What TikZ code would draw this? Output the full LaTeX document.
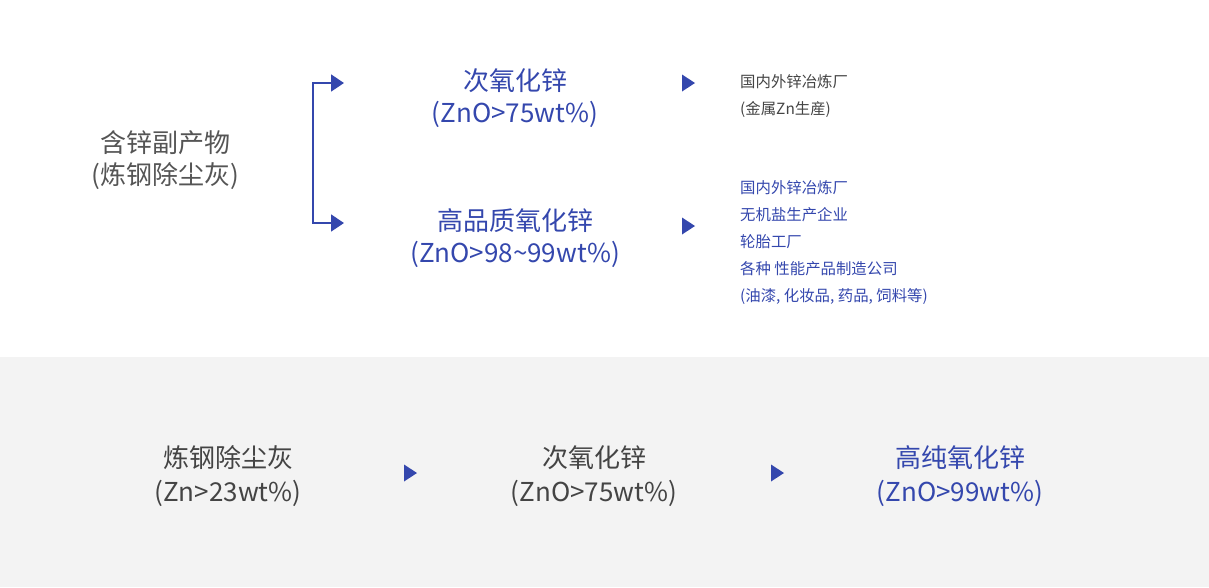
\documentclass[tikz,border=0pt]{standalone}
\usepackage{fontspec}
\setmainfont{Noto Sans CJK SC}
\usetikzlibrary{arrows.meta}
\definecolor{zblue}{HTML}{3447AD}
\definecolor{zgray}{HTML}{555555}
\definecolor{dgray}{HTML}{444444}
\definecolor{band}{HTML}{F3F3F3}
\tikzset{
  big/.style={align=center,inner sep=0pt,font=\fontsize{26}{32}\selectfont},
  low/.style={align=center,inner sep=0pt,text=dgray,font=\fontsize{26}{34}\selectfont},
  small/.style={align=left,anchor=west,inner sep=0pt,font=\fontsize{15.4}{27}\selectfont},
  tri/.pic={\fill[zblue] (-6,-8.5) -- (7,0) -- (-6,8.5) -- cycle;}
}
\begin{document}
\begin{tikzpicture}[x=1pt,y=-1pt]
  \useasboundingbox (0,0) rectangle (1209,587);
  \fill[band] (0,357) rectangle (1209,587);
  % top part
  \node[big,text=zgray] (src) at (165,160) {含锌副产物\\(炼钢除尘灰)};
  \node[big,text=zblue] (zno1) at (515,98) {次氧化锌\\(ZnO>75wt\%)};
  \node[big,text=zblue] (zno2) at (515,238) {高品质氧化锌\\(ZnO>98\textasciitilde99wt\%)};
  \coordinate (a1) at (344,83);
  \coordinate (a2) at (344,223);
  \draw[zblue,line width=1.5pt,{Triangle[length=13pt,width=17pt]}-{Triangle[length=13pt,width=17pt]}]
    (a1) -- (313,83) -- (313,223) -- (a2);
  \pic at (688,83) {tri};
  \pic at (688,226) {tri};
  \node[small,text=dgray] (use1) at (740,96) {国内外锌冶炼厂\\(金属Zn生産)};
  \node[small,text=zblue] (use2) at (740,243) {国内外锌冶炼厂\\无机盐生产企业\\轮胎工厂\\各种 性能产品制造公司\\(油漆, 化妆品, 药品, 饲料等)};
  % bottom part
  \node[low] (s1) at (228,476) {炼钢除尘灰\\(Zn>23wt\%)};
  \node[low] (s2) at (594,476) {次氧化锌\\(ZnO>75wt\%)};
  \node[low,text=zblue] (s3) at (960,476) {高纯氧化锌\\(ZnO>99wt\%)};
  \pic at (410,473) {tri};
  \pic at (777,473) {tri};
\end{tikzpicture}
\end{document}
